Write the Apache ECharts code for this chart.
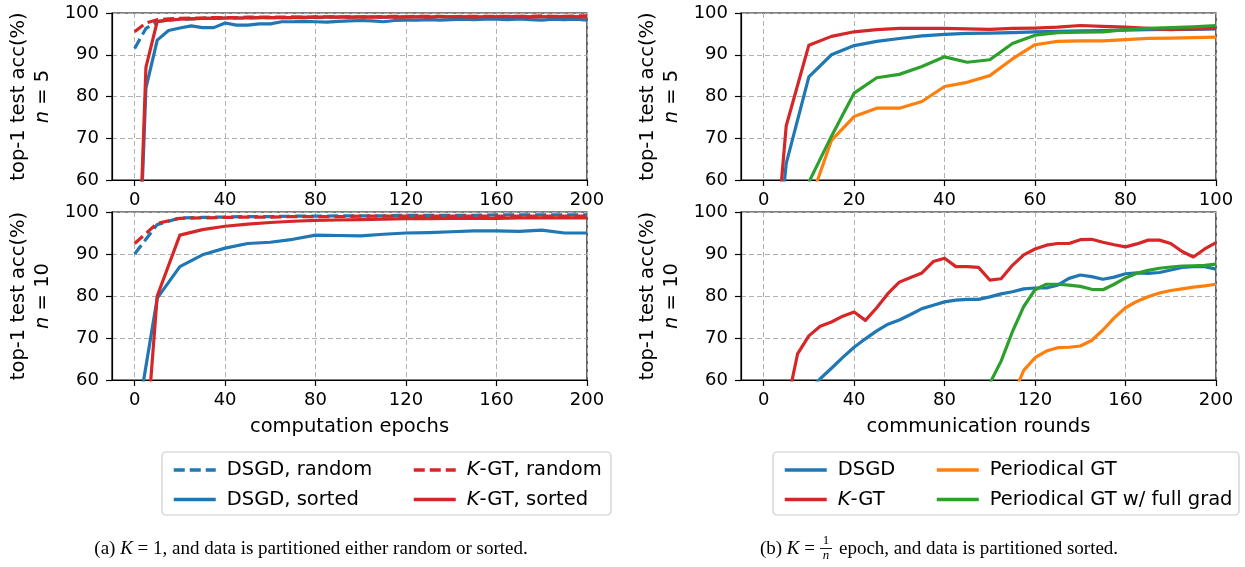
<!DOCTYPE html>
<html><head><meta charset="utf-8">
<script src="https://cdn.jsdelivr.net/npm/echarts@6/dist/echarts.min.js"></script>
<style>html,body{margin:0;padding:0;background:#fff}#c{width:1245px;height:567px}</style>
</head><body><div id="c"></div>
<script>
// ---------- data ----------
const epochs5 = [0,5,10,15,20,25,30,35,40,45,50,55,60,65,70,75,80,85,90,95,100,105,110,115,120,125,130,135,140,145,150,155,160,165,170,175,180,185,190,195,200];
const dsgdRandom5 = [91.5,96.3,97.9,98.3,98.5,98.6,98.7,98.7,98.8,98.8,98.8,98.9,98.9,98.9,98.9,99.0,98.9,99.0,99.0,99.0,99.0,99.1,99.0,99.0,99.1,99.1,99.0,99.1,99.1,99.1,99.1,99.0,99.1,99.1,99.2,99.1,99.1,99.1,99.2,99.1,99.1];
const dsgdSorted5 = [10,82,93.5,95.8,96.4,96.9,96.5,96.5,97.6,97.1,97.1,97.4,97.4,97.9,97.9,98.0,97.9,97.8,98.0,98.1,98.2,98.1,97.9,98.2,98.3,98.3,98.4,98.3,98.4,98.5,98.4,98.5,98.5,98.4,98.6,98.4,98.3,98.5,98.4,98.5,98.3];
const kgtRandom5 = [95.5,97.6,98.4,98.6,98.7,98.8,98.8,98.9,98.9,98.9,99.0,99.0,99.0,99.0,99.1,99.0,99.1,99.1,99.1,99.1,99.1,99.1,99.1,99.2,99.1,99.2,99.2,99.2,99.1,99.2,99.2,99.2,99.2,99.2,99.2,99.2,99.3,99.2,99.2,99.3,99.3];
const kgtSorted5 = [10,87,98.0,98.3,98.5,98.6,98.7,98.7,98.8,98.8,98.8,98.9,98.9,98.9,98.9,98.9,99.0,99.0,99.0,99.0,99.0,99.0,99.0,99.0,99.0,99.1,99.0,99.1,99.1,99.1,99.0,99.1,99.1,99.1,99.1,99.0,99.1,99.1,99.1,99.1,99.0];

const epochs10 = [0,10,20,30,40,50,60,70,80,90,100,110,120,130,140,150,160,170,180,190,200];
const dsgdRandom10 = [90.0,97.0,98.6,98.7,98.8,98.9,98.9,99.0,99.0,99.1,99.1,99.1,99.2,99.2,99.2,99.2,99.3,99.3,99.3,99.3,99.3];
const dsgdSorted10 = [47,79.5,87.0,89.8,91.4,92.5,92.8,93.5,94.5,94.4,94.3,94.7,95.0,95.1,95.3,95.5,95.5,95.4,95.7,95.0,95.0];
const kgtRandom10 = [92.5,97.3,98.5,98.6,98.7,98.8,98.8,98.9,98.9,98.9,99.0,99.0,99.0,99.0,99.0,99.0,99.0,99.0,99.0,99.0,99.0];
const kgtSorted10 = [10,80.0,94.5,95.8,96.6,97.1,97.5,97.8,98.0,98.1,98.2,98.3,98.4,98.4,98.5,98.5,98.5,98.6,98.6,98.6,98.6];

const rounds5 = [0,5,10,15,20,25,30,35,40,45,50,55,60,65,70,75,80,85,90,95,100];
const dsgdR5 = [10,64,84.7,90.0,92.2,93.2,93.9,94.5,94.9,95.1,95.2,95.3,95.5,95.6,95.7,95.8,95.9,96.0,96.1,96.1,96.2];
const kgtR5 = [10,73,92.3,94.4,95.5,96.0,96.3,96.3,96.3,96.2,96.1,96.3,96.4,96.6,97.0,96.8,96.6,96.3,96.0,96.2,96.3];
const pgtR5 = [null,null,54,69.5,75.2,77.2,77.2,78.8,82.4,83.4,85.0,89.0,92.4,93.2,93.3,93.3,93.6,93.9,94.0,94.1,94.2];
const pgtFullR5 = [null,null,59.5,70.5,80.8,84.5,85.3,87.2,89.5,88.2,88.8,92.7,94.7,95.3,95.4,95.5,96.0,96.3,96.5,96.7,97.0];

const rounds10 = [0,5,10,15,20,25,30,35,40,45,50,55,60,65,70,75,80,85,90,95,100,105,110,115,120,125,130,135,140,145,150,155,160,165,170,175,180,185,190,195,200];
const dsgdR10 = [null,null,null,null,57.5,60.3,62.8,65.4,67.8,69.8,71.7,73.3,74.3,75.6,77.0,77.8,78.6,79.0,79.2,79.2,79.8,80.5,81.0,81.7,81.9,81.9,82.6,84.2,85.0,84.6,84.0,84.5,85.3,85.5,85.4,85.6,86.2,86.8,87.0,87.0,86.4];
const kgtR10 = [null,null,53.3,66.2,70.5,72.8,73.8,75.2,76.2,74.2,77.2,80.6,83.3,84.4,85.5,88.2,89.0,87.0,87.0,86.8,83.8,84.1,87.3,89.8,91.2,92.1,92.5,92.5,93.4,93.5,92.8,92.2,91.7,92.4,93.3,93.3,92.5,90.6,89.3,91.2,92.7];
const pgtR10 = [null,null,null,null,null,null,null,null,null,null,null,null,null,null,null,null,null,null,null,null,null,null,56.0,62.3,65.3,66.9,67.7,67.8,68.1,69.4,71.9,74.8,77.2,78.7,79.8,80.7,81.3,81.7,82.1,82.4,82.8];
const pgtFullR10 = [null,null,null,null,null,null,null,null,null,null,null,null,null,null,null,null,null,null,null,null,59.2,64.5,71.5,77.5,81.5,82.8,82.8,82.6,82.3,81.6,81.5,82.8,84.3,85.4,86.1,86.6,86.9,87.1,87.2,87.3,87.6];

const yTicks = [60,70,80,90,100];
const xTicksEpochs = [0,40,80,120,160,200];
const xTicksRounds5 = [0,20,40,60,80,100];
const xTicksRounds10 = [0,40,80,120,160,200];

// ---------- styling ----------
const FONT = 'DejaVu Sans';
const BLUE = '#1f77b4', RED = '#d62728', ORANGE = '#ff7f0e', GREEN = '#2ca02c';
const DASH = [11, 5];
const LW = 3.2;
const LBL = 19.5;

const grids = [
  {left: 112, top: 13, width: 475, height: 167},
  {left: 112, top: 212, width: 475, height: 168},
  {left: 741, top: 13, width: 475, height: 167},
  {left: 741, top: 212, width: 475, height: 168}
].map(g => Object.assign(g, {show: true, borderColor: '#000', borderWidth: 1.2, backgroundColor: 'transparent', containLabel: false}));

function xAx(i, min, max, ticks, name) {
  return {
    type: 'value', gridIndex: i, min: min, max: max,
    name: name || '', nameLocation: 'middle', nameGap: 37,
    nameTextStyle: {fontFamily: FONT, fontSize: LBL, color: '#000'},
    axisLine: {show: true, onZero: false, lineStyle: {color: '#000', width: 1.2}},
    axisTick: {show: true, inside: false, length: 6, customValues: ticks, lineStyle: {color: '#000', width: 1.2}},
    axisLabel: {show: true, customValues: ticks, margin: 11, fontFamily: FONT, fontSize: 18, color: '#000'},
    splitLine: {show: true, lineStyle: {color: '#b0b0b0', width: 1, type: [5, 3]}}
  };
}
function yAx(i, n) {
  return {
    type: 'value', gridIndex: i, min: yTicks[0], max: yTicks[yTicks.length - 1], interval: 10,
    name: 'top-1 test acc(%)\n{i|n} = ' + n, nameLocation: 'middle', nameGap: 57, nameRotate: 90,
    nameTextStyle: {fontFamily: FONT, fontSize: LBL, color: '#000', lineHeight: 24, align: 'center',
      rich: {i: {fontFamily: FONT, fontSize: LBL, fontStyle: 'italic', color: '#000', lineHeight: 24}}},
    axisLine: {show: true, onZero: false, lineStyle: {color: '#000', width: 1.2}},
    axisTick: {show: true, inside: false, length: 6, lineStyle: {color: '#000', width: 1.2}},
    axisLabel: {show: true, margin: 13, fontFamily: FONT, fontSize: 18, color: '#000'},
    splitLine: {show: true, lineStyle: {color: '#b0b0b0', width: 1, type: [5, 3]}}
  };
}

function line(name, idx, xs, ys, color, dashed) {
  return {
    type: 'line', name: name, xAxisIndex: idx, yAxisIndex: idx,
    data: xs.map((x, k) => [x, ys[k]]),
    symbol: 'none', showSymbol: false, clip: true, connectNulls: false,
    lineStyle: {color: color, width: LW, type: dashed ? DASH : 'solid', cap: 'butt', join: 'round'},
    itemStyle: {color: color},
    emphasis: {disabled: true}, silent: true, animation: false
  };
}

const series = [
  line('DSGD, random', 0, epochs5, dsgdRandom5, BLUE, true),
  line('DSGD, sorted', 0, epochs5, dsgdSorted5, BLUE, false),
  line('K-GT, random', 0, epochs5, kgtRandom5, RED, true),
  line('K-GT, sorted', 0, epochs5, kgtSorted5, RED, false),
  line('DSGD, random', 1, epochs10, dsgdRandom10, BLUE, true),
  line('DSGD, sorted', 1, epochs10, dsgdSorted10, BLUE, false),
  line('K-GT, random', 1, epochs10, kgtRandom10, RED, true),
  line('K-GT, sorted', 1, epochs10, kgtSorted10, RED, false),
  line('DSGD', 2, rounds5, dsgdR5, BLUE, false),
  line('K-GT', 2, rounds5, kgtR5, RED, false),
  line('Periodical GT', 2, rounds5, pgtR5, ORANGE, false),
  line('Periodical GT w/ full grad', 2, rounds5, pgtFullR5, GREEN, false),
  line('DSGD', 3, rounds10, dsgdR10, BLUE, false),
  line('K-GT', 3, rounds10, kgtR10, RED, false),
  line('Periodical GT', 3, rounds10, pgtR10, ORANGE, false),
  line('Periodical GT w/ full grad', 3, rounds10, pgtFullR10, GREEN, false)
];

function legendFmt(name) {
  return '{s|}' + name.replace(/^K-/, '{i|K}-');
}
function mkLegend(data, left) {
  return {
    data: data, left: left, top: 455, orient: 'vertical', itemGap: 9.5,
    itemWidth: 42, itemHeight: 19.5, selectedMode: false, z: 10,
    formatter: legendFmt,
    itemStyle: {opacity: 0},
    lineStyle: {width: 3.5},
    textStyle: {fontFamily: FONT, fontSize: LBL, color: '#000', lineHeight: 19.5,
      rich: {s: {width: 6}, i: {fontFamily: FONT, fontSize: LBL, fontStyle: 'italic', color: '#000'}}}
  };
}

const CAP = '19px "Liberation Serif"';
const CAPI = 'italic 19px "Liberation Serif"';

const option = {
  animation: false,
  backgroundColor: '#fff',
  grid: grids,
  xAxis: [
    xAx(0, -10, 200, xTicksEpochs, ''),
    xAx(1, -10, 200, xTicksEpochs, 'computation epochs'),
    xAx(2, -5, 100, xTicksRounds5, ''),
    xAx(3, -10, 200, xTicksRounds10, 'communication rounds')
  ],
  yAxis: [yAx(0, 5), yAx(1, 10), yAx(2, 5), yAx(3, 10)],
  legend: [
    mkLegend(['DSGD, random', 'DSGD, sorted'], 167),
    mkLegend(['K-GT, random', 'K-GT, sorted'], 407),
    mkLegend(['DSGD', 'K-GT'], 778),
    mkLegend(['Periodical GT', 'Periodical GT w/ full grad'], 930)
  ],
  series: series,
  graphic: [
    {type: 'rect', shape: {x: 162, y: 452, width: 449, height: 63, r: 4}, z: 1,
      style: {fill: '#fff', stroke: '#cccccc', lineWidth: 1.2}},
    {type: 'rect', shape: {x: 773, y: 452, width: 466, height: 63, r: 4}, z: 1,
      style: {fill: '#fff', stroke: '#cccccc', lineWidth: 1.2}},
    {type: 'text', x: 311, y: 549, z: 5,
      style: {text: '(a) {i|K} = 1, and data is partitioned either random or sorted.',
        font: CAP, fill: '#000', align: 'center', verticalAlign: 'middle',
        rich: {i: {font: CAPI, fill: '#000'}}}},
    {type: 'text', x: 815, y: 549, z: 5,
      style: {text: '(b) {i|K} =', font: CAP, fill: '#000', align: 'right', verticalAlign: 'middle',
        rich: {i: {font: CAPI, fill: '#000'}}}},
    {type: 'text', x: 826, y: 541, z: 5,
      style: {text: '1', font: '13px "Liberation Serif"', fill: '#000', align: 'center', verticalAlign: 'middle'}},
    {type: 'line', shape: {x1: 820, y1: 548.5, x2: 832, y2: 548.5}, z: 5, style: {stroke: '#000', lineWidth: 0.9}},
    {type: 'text', x: 826, y: 556, z: 5,
      style: {text: 'n', font: 'italic 13px "Liberation Serif"', fill: '#000', align: 'center', verticalAlign: 'middle'}},
    {type: 'text', x: 839, y: 549, z: 5,
      style: {text: 'epoch, and data is partitioned sorted.', font: CAP, fill: '#000', align: 'left', verticalAlign: 'middle'}}
  ]
};

const chart = echarts.init(document.getElementById('c'), null, {renderer: 'canvas'});
chart.setOption(option);
</script>
</body></html>
